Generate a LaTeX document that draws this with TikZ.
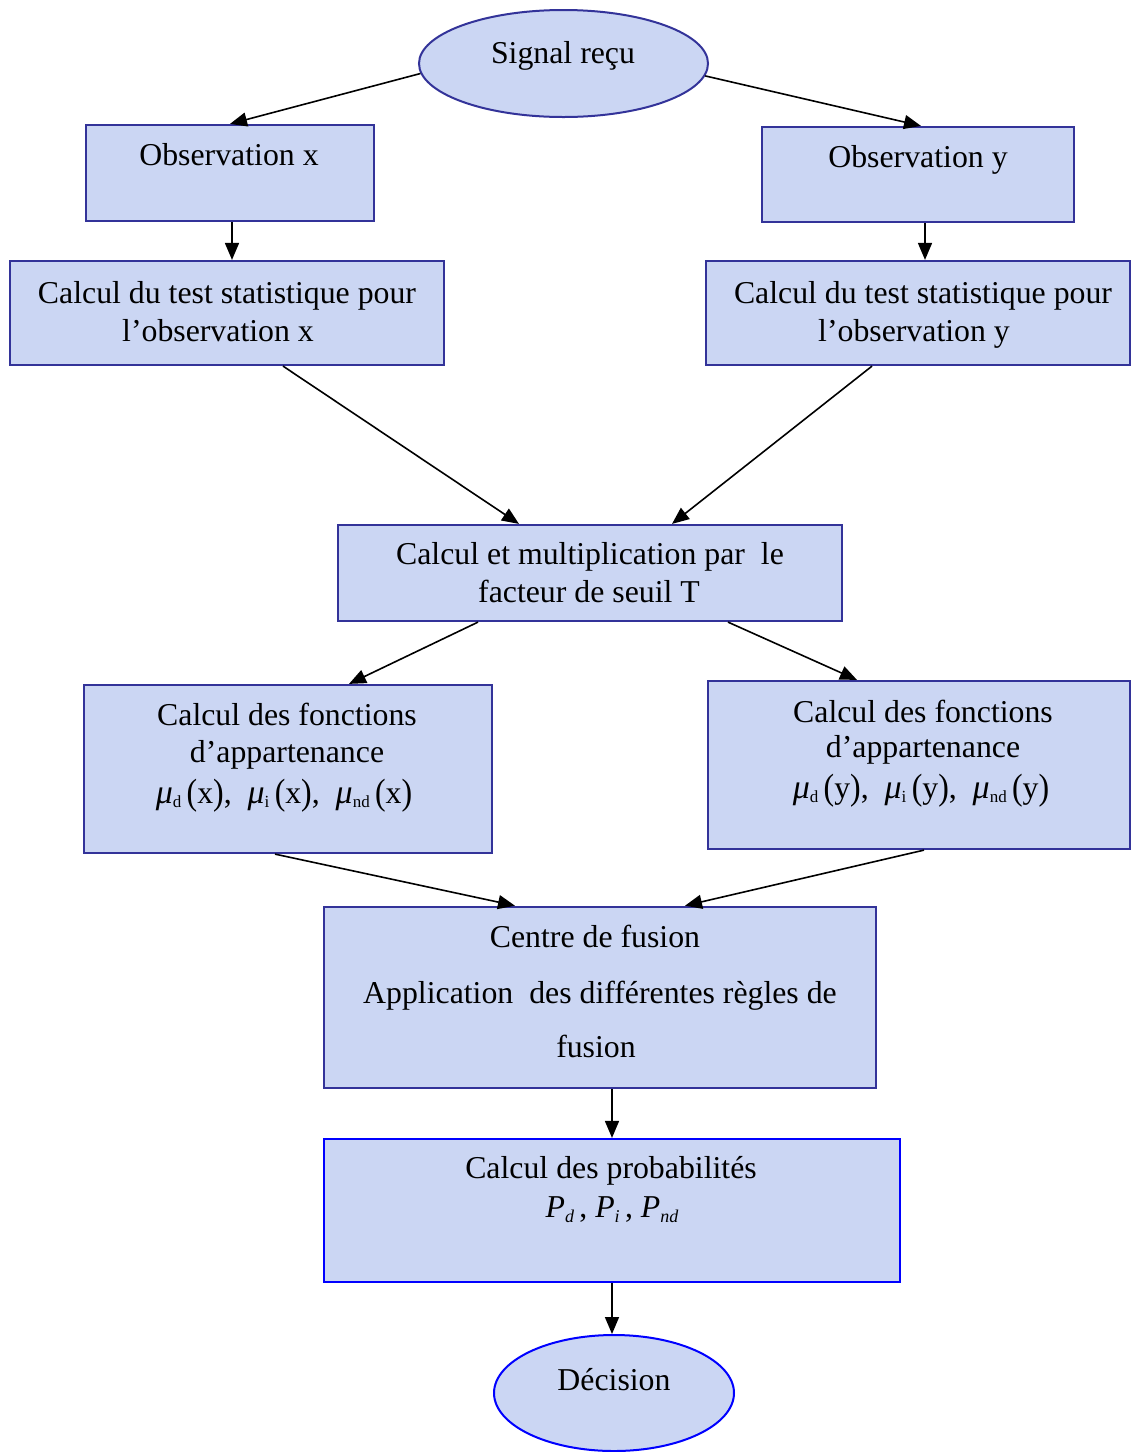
\documentclass[tikz,border=0pt]{standalone}
\usepackage{graphicx}
\usepackage{fontspec}
\setmainfont{Liberation Serif}
\usetikzlibrary{shapes.geometric,arrows.meta}
\definecolor{boxfill}{RGB}{203,214,243}
\definecolor{navy}{RGB}{51,51,153}
\definecolor{brightblue}{RGB}{0,0,255}
% tall parentheses
\newcommand{\lpar}{\raisebox{-0.08ex}{\scalebox{1}[1.15]{(}}}
\newcommand{\rpar}{\raisebox{-0.08ex}{\scalebox{1}[1.15]{)}}}
% membership function mu_sub(arg)
\newcommand{\memb}[2]{{\fontsize{34}{38}\selectfont\textit{μ}}\raisebox{-0.3ex}{\fontsize{17}{17}\selectfont #1}\,\lpar#2\rpar}
% probability P_sub
\newcommand{\prob}[1]{\textit{P}\raisebox{-0.35ex}{\fontsize{18}{18}\selectfont\textit{#1}}}
\begin{document}
\begin{tikzpicture}[x=1pt,y=-1pt,
  panel/.style={rectangle,draw=navy,line width=2.2pt,fill=boxfill,inner sep=0pt},
  bluepanel/.style={panel,draw=brightblue},
  oval/.style={ellipse,draw=navy,line width=2pt,fill=boxfill,inner sep=0pt},
  blueoval/.style={oval,draw=brightblue},
  txt/.style={anchor=base,inner sep=0pt,font=\fontsize{31.8}{38}\selectfont},
  conn/.style={line width=1.6pt,-{Triangle[length=17pt,width=14pt]}}]
\useasboundingbox (0,0) rectangle (1131,1452);

% shapes
\node[oval,minimum width=289pt,minimum height=107pt] (sig) at (563.5,63.5) {};
\node[panel,minimum width=288pt,minimum height=96pt] (obsx) at (230,173) {};
\node[panel,minimum width=312pt,minimum height=95pt] (obsy) at (918,174.5) {};
\node[panel,minimum width=434pt,minimum height=104pt] (calcx) at (227,313) {};
\node[panel,minimum width=424pt,minimum height=104pt] (calcy) at (918,313) {};
\node[panel,minimum width=504pt,minimum height=96pt] (mult) at (590,573) {};
\node[panel,minimum width=408pt,minimum height=168pt] (fonctx) at (288,769) {};
\node[panel,minimum width=422pt,minimum height=168pt] (foncty) at (919,765) {};
\node[panel,line width=2.6pt,minimum width=552pt,minimum height=181pt] (centre) at (600,997.5) {};
\node[bluepanel,minimum width=576pt,minimum height=143pt] (proba) at (612,1210.5) {};
\node[blueoval,minimum width=240pt,minimum height=116pt] (dec) at (614,1393) {};

% texts
\node[txt] (t-sig) at (563,63) {Signal reçu};
\node[txt] (t-obsx) at (229,165) {Observation x};
\node[txt] (t-obsy) at (918,167) {Observation y};
\node[txt] (t-cx1) at (227,303) {Calcul du test statistique pour};
\node[txt] (t-cx2) at (218,341) {l’observation x};
\node[txt] (t-cy1) at (923,303) {Calcul du test statistique pour};
\node[txt] (t-cy2) at (914,341) {l’observation y};
\node[txt] (t-m1) at (590,564) {Calcul et multiplication par\ \ le};
\node[txt] (t-m2) at (589,602) {facteur de seuil T};
\node[txt] (t-fx1) at (287,725) {Calcul des fonctions};
\node[txt] (t-fx2) at (287,762) {d’appartenance};
\node[txt] (t-fx3) at (284,803) {\memb{d}{x},\ \ \memb{i}{x},\ \ \memb{nd}{x}};
\node[txt] (t-fy1) at (923,722) {Calcul des fonctions};
\node[txt] (t-fy2) at (923,757) {d’appartenance};
\node[txt] (t-fy3) at (921,798) {\memb{d}{y},\ \ \memb{i}{y},\ \ \memb{nd}{y}};
\node[txt] (t-c1) at (595,947) {Centre de fusion};
\node[txt] (t-c2) at (600,1003) {Application\ \ des différentes règles de};
\node[txt] (t-c3) at (596,1057) {fusion};
\node[txt] (t-p1) at (611,1178) {Calcul des probabilités};
\node[txt] (t-p2) at (612,1217) {\prob{d}\,,\ \prob{i}\,,\ \prob{nd}};
\node[txt] (t-dec) at (614,1390) {Décision};

% connectors
\draw[conn] (sig.184) -- (obsx.north);
\draw[conn] (sig.355) -- ([xshift=3pt]obsy.north);
\draw[conn] ([xshift=2pt]obsx.south) -- ([xshift=2pt]obsx.south |- calcx.north);
\draw[conn] ([xshift=7pt]obsy.south) -- ([xshift=7pt]obsy.south |- calcy.north);
\draw[conn] ([xshift=56pt]calcx.south) -- ([xshift=-71pt]mult.north);
\draw[conn] ([xshift=-46pt]calcy.south) -- ([xshift=82pt]mult.north);
\draw[conn] ([xshift=-112pt]mult.south) -- ([xshift=61pt]fonctx.north);
\draw[conn] ([xshift=138pt]mult.south) -- ([xshift=-62pt]foncty.north);
\draw[conn] ([xshift=-13pt]fonctx.south) -- ([xshift=-85pt]centre.north);
\draw[conn] ([xshift=5pt]foncty.south) -- ([xshift=85pt]centre.north);
\draw[conn] (proba.north |- centre.south) -- (proba.north);
\draw[conn] (proba.south) -- (proba.south |- dec.north);
\end{tikzpicture}
\end{document}
